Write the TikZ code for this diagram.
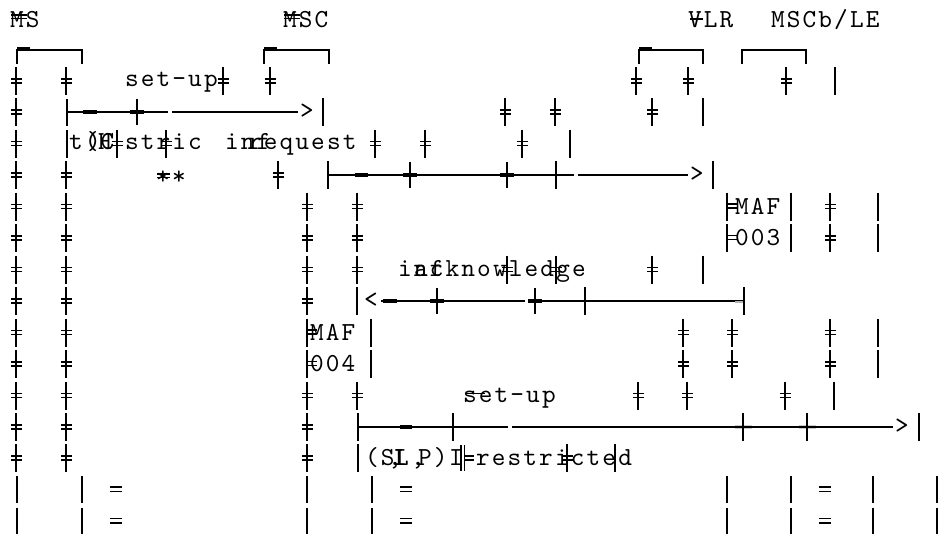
\documentclass[tikz,border=0pt]{standalone}
\usepackage{fontspec}
\newfontfamily\monoA[LetterSpace=8.3]{lmmono10-regular.otf}
\newcommand\tk[2]{\draw[tick] (#1,#2-14) -- (#1,#2+14); \draw[tick] (#1-5,#2-2) -- (#1+6,#2-2) (#1-5,#2+2) -- (#1+6,#2+2);}
\newcommand\vl[2]{\draw[tick] (#1,#2-14) -- (#1,#2+14);}
\newcommand\xc[2]{\draw[tick] (#1,#2-13) -- (#1,#2+13); \draw[blob] (#1-7,#2) -- (#1+7,#2);}
\newcommand\bv[2]{\draw[botv] (#1,#2-13.5) -- (#1,#2+13.5);}
\newcommand\beq[2]{\draw[tick] (#1-6,#2-2.5) -- (#1+6,#2-2.5) (#1-6,#2+2) -- (#1+6,#2+2);}
\begin{document}
\begin{tikzpicture}[x=1pt,y=-1pt,
  tick/.style={line width=1.1pt},
  botv/.style={line width=1.6pt},
  arrw/.style={line width=2.6pt},
  brk/.style={line width=2.4pt},
  blob/.style={line width=4.5pt},
  txt/.style={inner sep=0pt, outer sep=0pt, anchor=base west, font=\monoA\fontsize{26}{26}\selectfont}]
\fill[white] (0,0) rectangle (939,533);
\useasboundingbox (0,0) rectangle (939,533);
% header
\node[txt] (hMS) at (10,27) {MS};
\draw[tick] (11,15) -- (27,15) (11,18.5) -- (27,18.5);
\node[txt] (hMSC) at (283,27) {MSC};
\draw[tick] (284,15) -- (300,15) (284,18.5) -- (300,18.5);
\node[txt] (hVLR) at (688,27) {VLR};
\draw[tick] (690,19) -- (703,19);
\node[txt] (hMSCb) at (771,27) {MSCb/LE};
% brackets
\draw[brk] (17,64) |- (82,50) -- (82,64);
\draw[brk] (17,48) -- (30,48);
\draw[brk] (264,64) |- (329,50) -- (329,64);
\draw[brk] (264,48) -- (277,48);
\draw[brk] (639,64) |- (703,50) -- (703,64);
\draw[brk] (639,48) -- (652,48);
\draw[brk] (742,64) |- (806,50) -- (806,64);
% row A
\tk{16}{81} \tk{66}{81}
\node[txt] (tA) at (125,86.5) {set-up};
\tk{223}{81} \tk{270}{81} \tk{636}{81} \tk{688}{81} \tk{786}{81} \vl{835}{81}
% row B
\tk{16}{112}
\draw[arrw] (67,99) -- (67,126);
\draw[arrw] (67,112) -- (168,112) (172,112) -- (298,112);
\draw[blob] (83,112) -- (97,112);
\xc{137}{112}
\node[txt] (gB) at (300,118) {>};
\vl{323}{112}
\tk{505}{112} \tk{555}{112} \tk{652}{112} \vl{703}{112}
% row C
\tk{16}{143.5} \vl{67}{143.5}
\node[txt] (tC1) at (69,149) {t(C};
\node[txt] (tC2) at (87,149) {)};
\node[txt] (tC3) at (98,149) {H};
\tk{117}{143.5}
\node[txt] (tC4) at (125,149) {stric};
\tk{166}{143.5}
\node[txt] (tC5) at (225,149) {inf};
\node[txt] (tC6) at (248,149) {request};
\tk{375}{143.5} \tk{425}{143.5} \tk{522}{143.5} \vl{570}{143.5}
% row D
\tk{16}{175} \tk{66}{175}
\node[txt] (sD1) at (156,184) {*};
\node[txt] (sD2) at (172,184) {*};
\draw[tick] (157,174) -- (170,174) (157,177.5) -- (170,177.5);
\tk{278}{175}
\draw[arrw] (328,161) -- (328,189);
\draw[arrw] (328,175) -- (574,175) (578,175) -- (688,175);
\draw[blob] (355,175) -- (368,175);
\xc{410}{175} \xc{507}{175} \vl{556}{175}
\node[txt] (gD) at (690,181) {>};
\vl{713}{175}
% row E
\tk{16}{206.5} \tk{66}{206.5} \tk{307}{206.5} \tk{357}{206.5}
\vl{727}{206.5}
\draw[tick] (727,204) -- (737,204) (727,208) -- (737,208);
\node[txt] (mE) at (735,214) {MAF};
\vl{791}{206.5}
\tk{830}{206.5} \vl{878}{206.5}
% row F
\tk{16}{238} \tk{66}{238} \tk{307}{238} \tk{357}{238}
\vl{727}{238}
\draw[tick] (727,235.5) -- (737,235.5) (727,239.5) -- (737,239.5);
\node[txt] (mF) at (735,245.5) {003};
\vl{791}{238}
\tk{830}{238} \vl{878}{238}
% row G
\tk{16}{269.5} \tk{66}{269.5} \tk{307}{269.5} \tk{357}{269.5}
\node[txt] (tG1) at (398,276.5) {inf};
\node[txt] (tG2) at (414,276.5) {acknowledge};
\tk{507}{269.5} \tk{556}{269.5} \tk{652}{269.5} \vl{703}{269.5}
% row H
\tk{16}{301} \tk{66}{301} \tk{307}{301} \vl{357}{301}
\node[txt] (lH) at (364,307.5) {<};
\draw[arrw] (381,301) -- (525,301) (529,301) -- (744,301);
\draw[blob] (383,301) -- (397,301);
\xc{437}{301} \xc{535}{301} \vl{585}{301}
\draw[line width=2pt, gray!60] (735,302) -- (743,302);
\draw[arrw] (744,287) -- (744,315);
% row I
\tk{16}{332.5} \tk{66}{332.5}
\vl{307}{332.5}
\draw[tick] (307,330) -- (317,330) (307,334) -- (317,334);
\node[txt] (mI) at (310,340) {MAF};
\vl{371}{332.5}
\tk{683}{332.5} \tk{732}{332.5} \tk{830}{332.5} \vl{878}{332.5}
% row J
\tk{16}{364} \tk{66}{364}
\vl{307}{364}
\draw[tick] (307,361.5) -- (317,361.5) (307,365.5) -- (317,365.5);
\node[txt] (mJ) at (310,371.5) {004};
\vl{371}{364}
\tk{683}{364} \tk{732}{364} \tk{830}{364} \vl{878}{364}
% row K
\tk{16}{395.5} \tk{66}{395.5} \tk{307}{395.5} \tk{357}{395.5}
\node[txt] (tK) at (463,402) {set-up};
\draw[tick] (465,393.5) -- (485,393.5);
\tk{638}{395.5} \tk{687}{395.5} \tk{785}{395.5} \vl{834}{395.5}
% row L
\tk{16}{427} \tk{66}{427} \tk{307}{427}
\draw[arrw] (358,413) -- (358,441);
\draw[arrw] (358,427) -- (508,427) (512,427) -- (893,427);
\draw[blob] (400,427) -- (412,427);
\vl{453}{427}
\draw[line width=3.5pt, gray!40] (735,427) -- (752,427) (799,427) -- (816,427);
\draw[arrw] (735,427) -- (816,427);
\draw[line width=2pt] (743,413) -- (743,441) (807,413) -- (807,441);
\node[txt] (gL) at (895,433) {>};
\vl{919}{427}
% row M
\tk{16}{458} \tk{66}{458} \tk{307}{458} \vl{358}{458}
\node[txt] (tM1) at (365,465) {(S};
\node[txt] (tM2) at (388,465) {,};
\node[txt] (tM3) at (395,465) {L};
\node[txt] (tM4) at (393,465) {I};
\node[txt] (tM5) at (411,465) {,};
\node[txt] (tM6) at (418,465) {P)};
\node[txt] (tM7) at (449,465) {I};
\draw[tick] (461,445) -- (461,471) (464.5,445) -- (464.5,471);
\draw[tick] (464,456) -- (474,456) (464,460) -- (474,460);
\node[txt] (tM8) at (476,465) {restricted};
\tk{567}{458} \vl{615}{458}
% rows N, O
\foreach \yy in {489.5,521}{
  \bv{17}{\yy} \bv{82}{\yy} \beq{116}{\yy}
  \bv{307}{\yy} \bv{372}{\yy} \beq{406}{\yy}
  \bv{727}{\yy} \bv{791}{\yy} \beq{825}{\yy}
  \bv{873}{\yy} \bv{937}{\yy}
}
\end{tikzpicture}
\end{document}
